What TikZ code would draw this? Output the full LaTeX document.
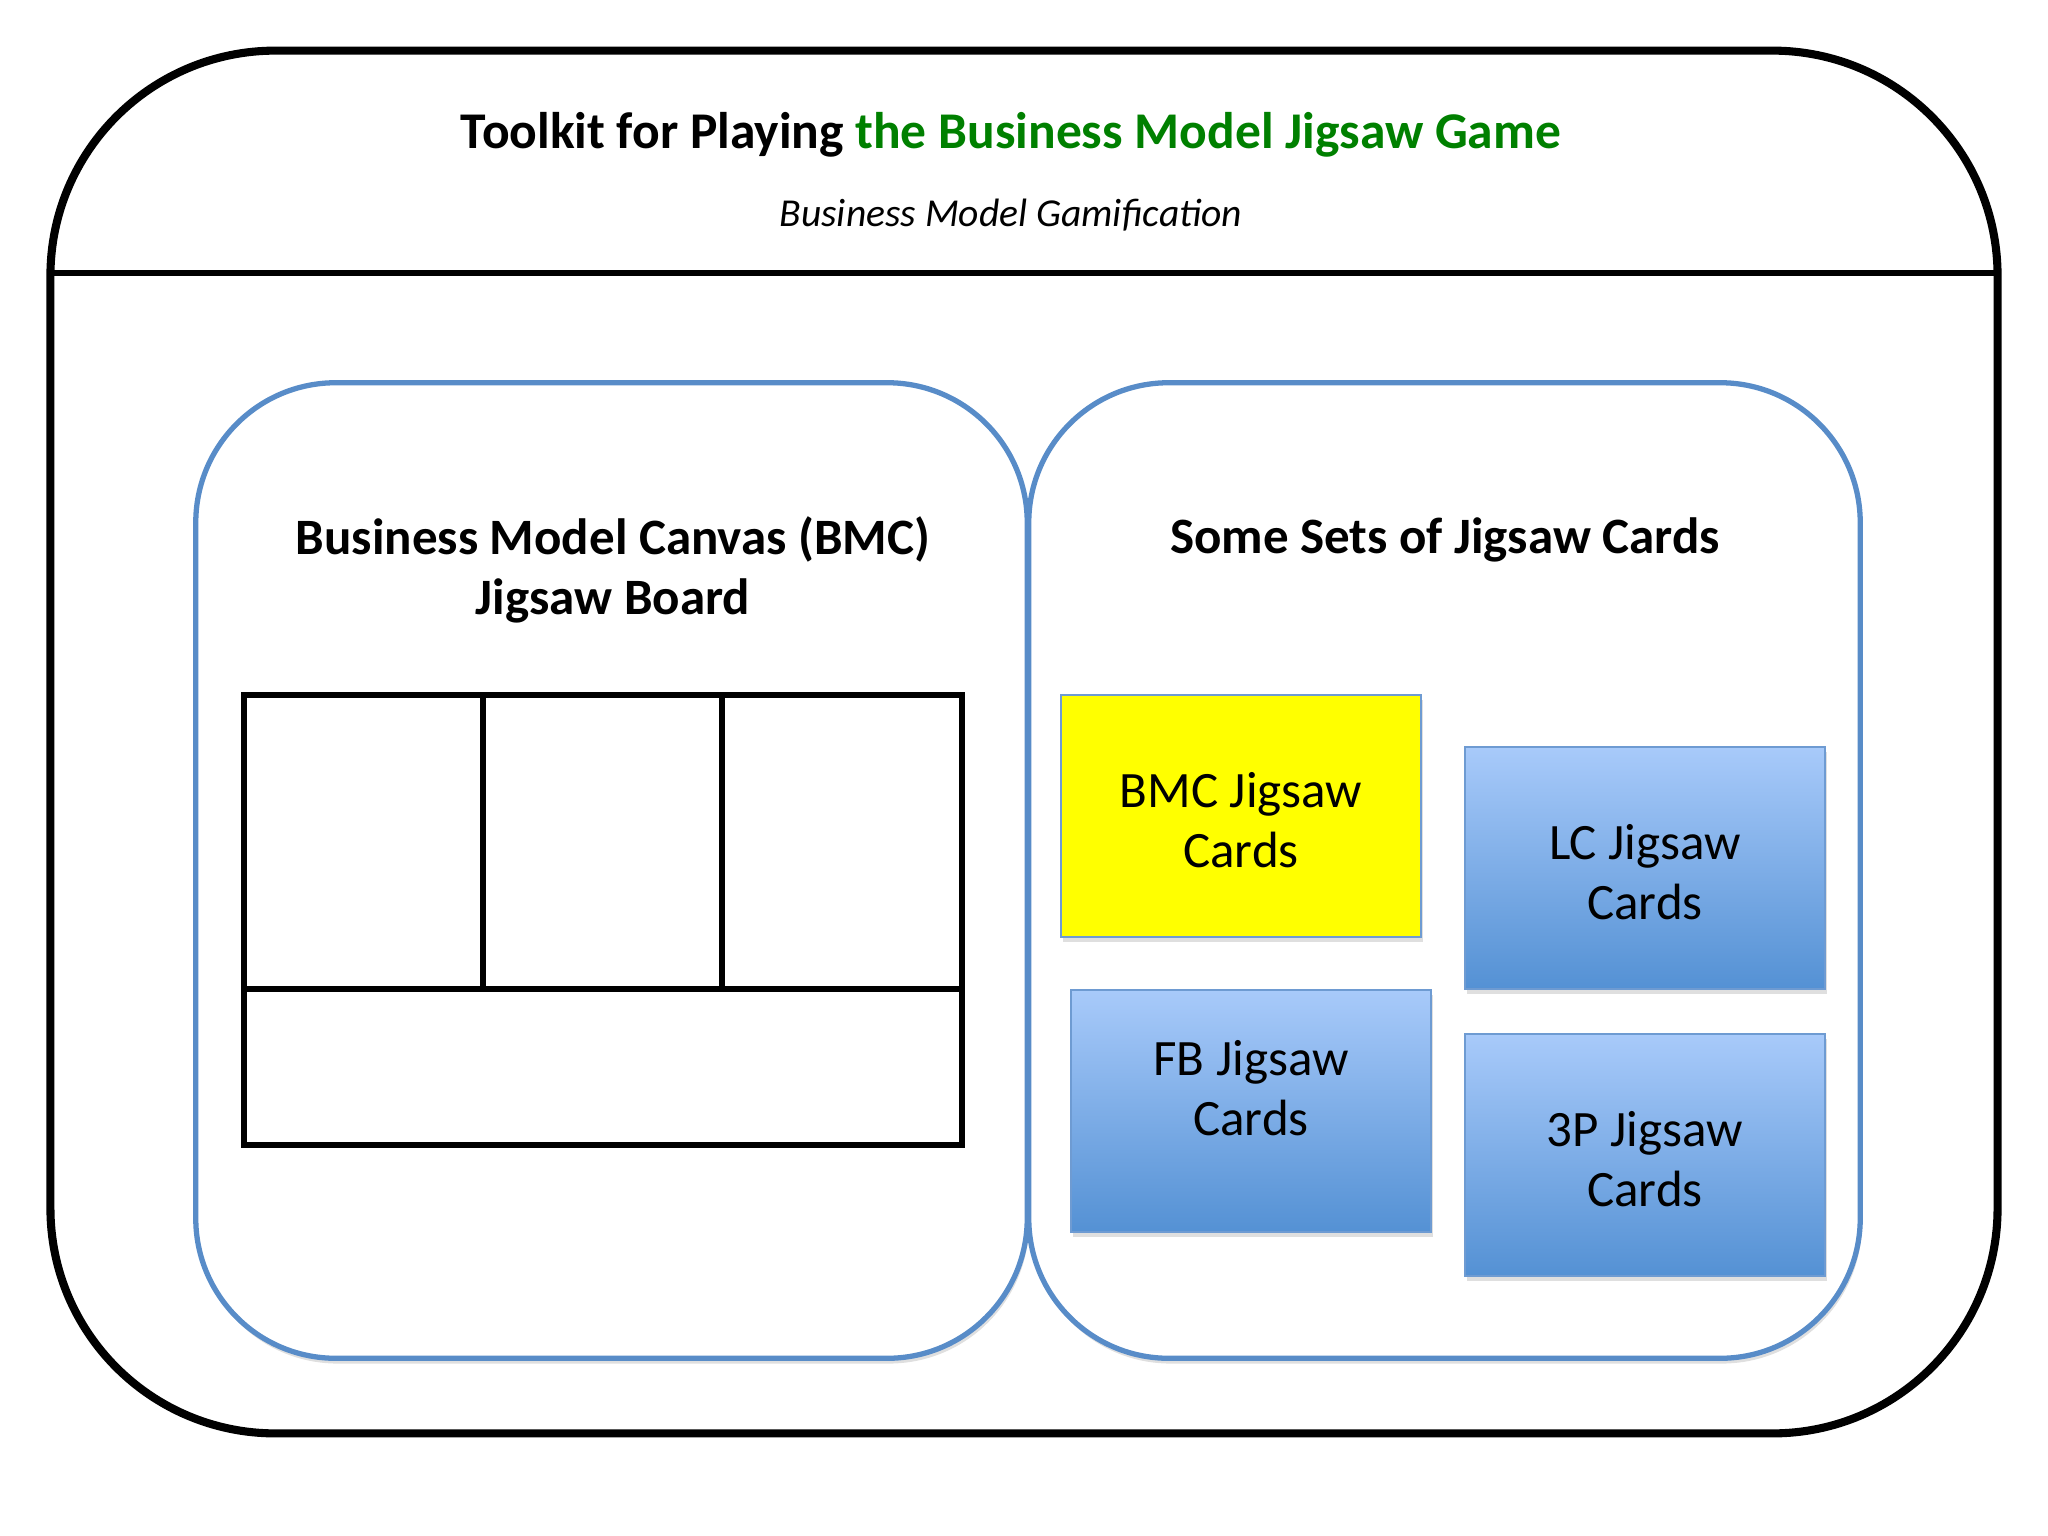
\documentclass[tikz,border=0pt]{standalone}
\usepackage{fontspec}
\setmainfont{Carlito}
\usepackage{tikz}
\usetikzlibrary{positioning, calc, shadows}
\definecolor{titlegreen}{RGB}{0,128,0}
\definecolor{boxblue}{RGB}{88,140,200}
\definecolor{cardtop}{RGB}{168,202,250}
\definecolor{cardbot}{RGB}{84,145,212}
\definecolor{cardline}{RGB}{110,155,210}

\begin{document}
\begin{tikzpicture}[x=0.01cm,y=-0.01cm,
  big/.style={font=\fontsize{14.5}{17}\selectfont\bfseries,align=center},
  sub/.style={font=\fontsize{11.25}{13}\selectfont\itshape},
  panel/.style={draw=boxblue,line width=1.5pt,rounded corners=1.4cm,fill=white,
    minimum width=8.31cm,minimum height=9.75cm,
    drop shadow={opacity=0.25,shadow xshift=0.5pt,shadow yshift=-1.5pt}},
  card/.style={draw=cardline,line width=0.6pt,minimum width=3.6cm,minimum height=2.42cm,
    top color=cardtop,bottom color=cardbot,
    font=\fontsize{14.5}{17}\selectfont,align=center,
    drop shadow={opacity=0.25,shadow xshift=0.5pt,shadow yshift=-1.5pt}},
  cardtxt/.style={font=\fontsize{14.5}{17}\selectfont,align=center},
  cell/.style={line width=1.7pt}]
  \useasboundingbox (0,0) rectangle (2048,1536);
  % outer frame
  \node[draw,line width=2.3pt,rounded corners=2.25cm,minimum width=19.46cm,minimum height=13.82cm] (outer) at (1024,742) {};
  \coordinate (sepl) at (51,273);
  \coordinate (sepr) at (1997,273);
  \draw[line width=1.5pt] (sepl) -- (sepr);
  \node[big,font=\fontsize{14.65}{17}\selectfont\bfseries] (title) at (1011,135) {Toolkit for Playing \textcolor{titlegreen}{the Business Model Jigsaw Game}};
  \node[sub] (subtitle) at (1011,215) {Business Model Gamification};
  % two panels
  \node[panel] (board) at (611.5,870.5) {};
  \node[panel] (sets) at (1444.5,870.5) {};
  \node[big] (boardtitle) at (613,570) {Business Model Canvas (BMC)\\Jigsaw Board};
  \node[big] (setstitle) at (1445,540) {Some Sets of Jigsaw Cards};
  % board grid
  \draw[cell] (244,695) rectangle (483,989);
  \draw[cell] (483,695) rectangle (722,989);
  \draw[cell] (722,695) rectangle (962,989);
  \draw[cell] (244,989) rectangle (962,1145);
  % cards
  \node[card,top color=yellow,bottom color=yellow] (bmc) at (1241,816) {};
  \node[card] (lc) at (1645,868) {};
  \node[card] (fb) at (1251,1111) {};
  \node[card] (tp) at (1645,1155) {};
  \node[cardtxt] (bmct) at ($(bmc.center)+(0,4)$) {BMC Jigsaw\\Cards};
  \node[cardtxt] (lct) at ($(lc.center)+(0,4)$) {LC Jigsaw\\Cards};
  \node[cardtxt] (fbt) at ($(fb.center)+(0,-23)$) {FB Jigsaw\\Cards};
  \node[cardtxt] (tpt) at ($(tp.center)+(0,4)$) {3P Jigsaw\\Cards};
\end{tikzpicture}
\end{document}
